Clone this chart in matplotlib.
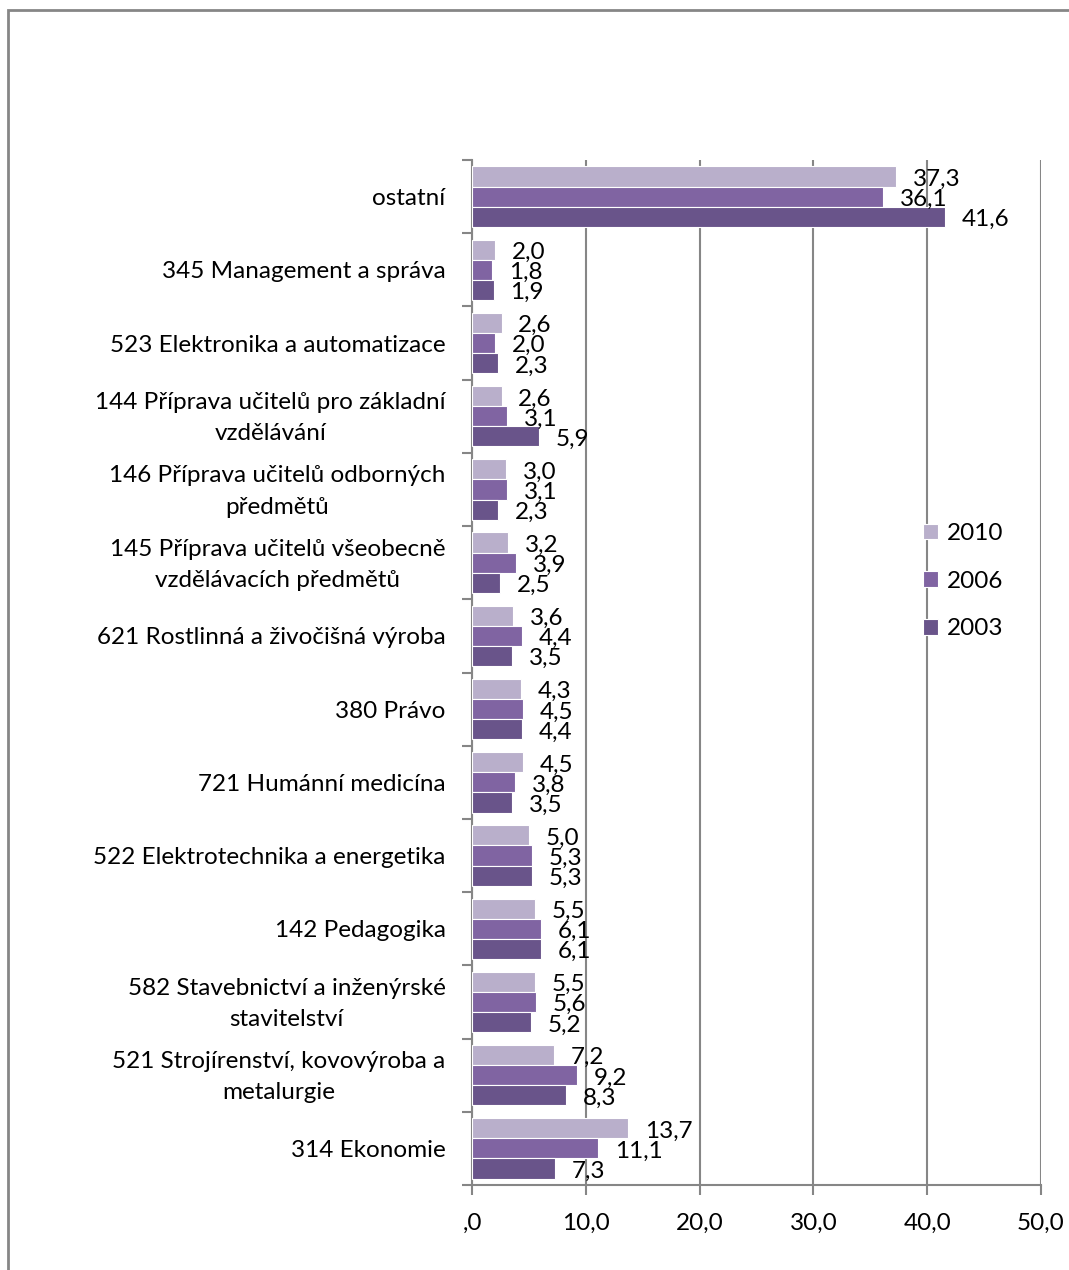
import matplotlib.pyplot as plt
from matplotlib.patches import Rectangle
from numpy import arange

plt.rcParams['font.family'] = ['Lato', 'DejaVu Sans']

# kategorie shora dolu
kategorie = [
    "ostatní",
    "345 Management a správa",
    "523 Elektronika a automatizace",
    "144 Příprava učitelů pro základní\nvzdělávání",
    "146 Příprava učitelů odborných\npředmětů",
    "145 Příprava učitelů všeobecně\nvzdělávacích předmětů",
    "621 Rostlinná a živočišná výroba",
    "380 Právo",
    "721 Humánní medicína",
    "522 Elektrotechnika a energetika",
    "142 Pedagogika",
    "582 Stavebnictví a inženýrské\nstavitelství",
    "521 Strojírenství, kovovýroba a\nmetalurgie",
    "314 Ekonomie",
]
r2010 = [37.3, 2.0, 2.6, 2.6, 3.0, 3.2, 3.6, 4.3, 4.5, 5.0, 5.5, 5.5, 7.2, 13.7]
r2006 = [36.1, 1.8, 2.0, 3.1, 3.1, 3.9, 4.4, 4.5, 3.8, 5.3, 6.1, 5.6, 9.2, 11.1]
r2003 = [41.6, 1.9, 2.3, 5.9, 2.3, 2.5, 3.5, 4.4, 3.5, 5.3, 6.1, 5.2, 8.3, 7.3]
roky = ["2010", "2006", "2003"]
barvy = ["#B9AFCB", "#8064A2", "#69548A"]
xticks = [0, 10, 20, 30, 40, 50]
xlabels = [",0", "10,0", "20,0", "30,0", "40,0", "50,0"]

fs = 17.5

fig = plt.figure(figsize=(10.69, 12.7), dpi=100)
ax = fig.add_axes([472/1069, 1-1185/1270, (1041-472)/1069, (1185-160)/1270])

n = len(kategorie)
y = arange(n)[::-1].astype(float)
h = 0.275
for i, (vals, rok, c) in enumerate(zip([r2010, r2006, r2003], roky, barvy)):
    pos = y + h*(1-i)
    ax.barh(pos, vals, height=h, color=c, edgecolor='white', linewidth=0.8, label=rok, zorder=3)
    for p, v in zip(pos, vals):
        ax.annotate(("%.1f" % v).replace('.', ','), (v, p), xytext=(12, -2), textcoords='offset points',
                    ha='left', va='center', fontsize=fs, zorder=4)

# popisky kategorii
for yi, k in zip(y, kategorie):
    ax.annotate(k, (0, yi), xycoords=('axes fraction', 'data'), xytext=(-19, -1.5), textcoords='offset points',
                ha='right', va='center', multialignment='center', linespacing=1.6, fontsize=fs)

ax.set_ylim(-0.5, n-0.5)
ax.set_xlim(0, 50)
ax.set_yticks(list(arange(n) - 0.5) + [n-0.5])
ax.set_yticklabels([])
ax.tick_params(axis='y', length=7, color='#868686', width=1.5)
ax.set_xticks(xticks)
ax.set_xticklabels(xlabels, fontsize=fs)
ax.tick_params(axis='x', length=7, color='#868686', width=1.5, pad=13)
ax.grid(axis='x', color='#868686', linewidth=1.5, zorder=0)
for s in ['top', 'right']:
    ax.spines[s].set_visible(False)
for s in ['left', 'bottom']:
    ax.spines[s].set_color('#868686')
    ax.spines[s].set_linewidth(1.5)

leg = ax.legend(loc='upper left', bbox_to_anchor=(923/1069, 1-523/1270), bbox_transform=fig.transFigure,
                frameon=False, fontsize=fs, handlelength=0.6, handleheight=0.6, handletextpad=0.4,
                labelspacing=1.1, borderaxespad=0, borderpad=0)

# ramecek grafu
fig.patches.append(Rectangle((8/1069, -0.05), 1.2, 1-10/1270+0.05, transform=fig.transFigure,
                             fill=False, edgecolor='#868686', linewidth=2))

fig.savefig('out.png', dpi=100)
